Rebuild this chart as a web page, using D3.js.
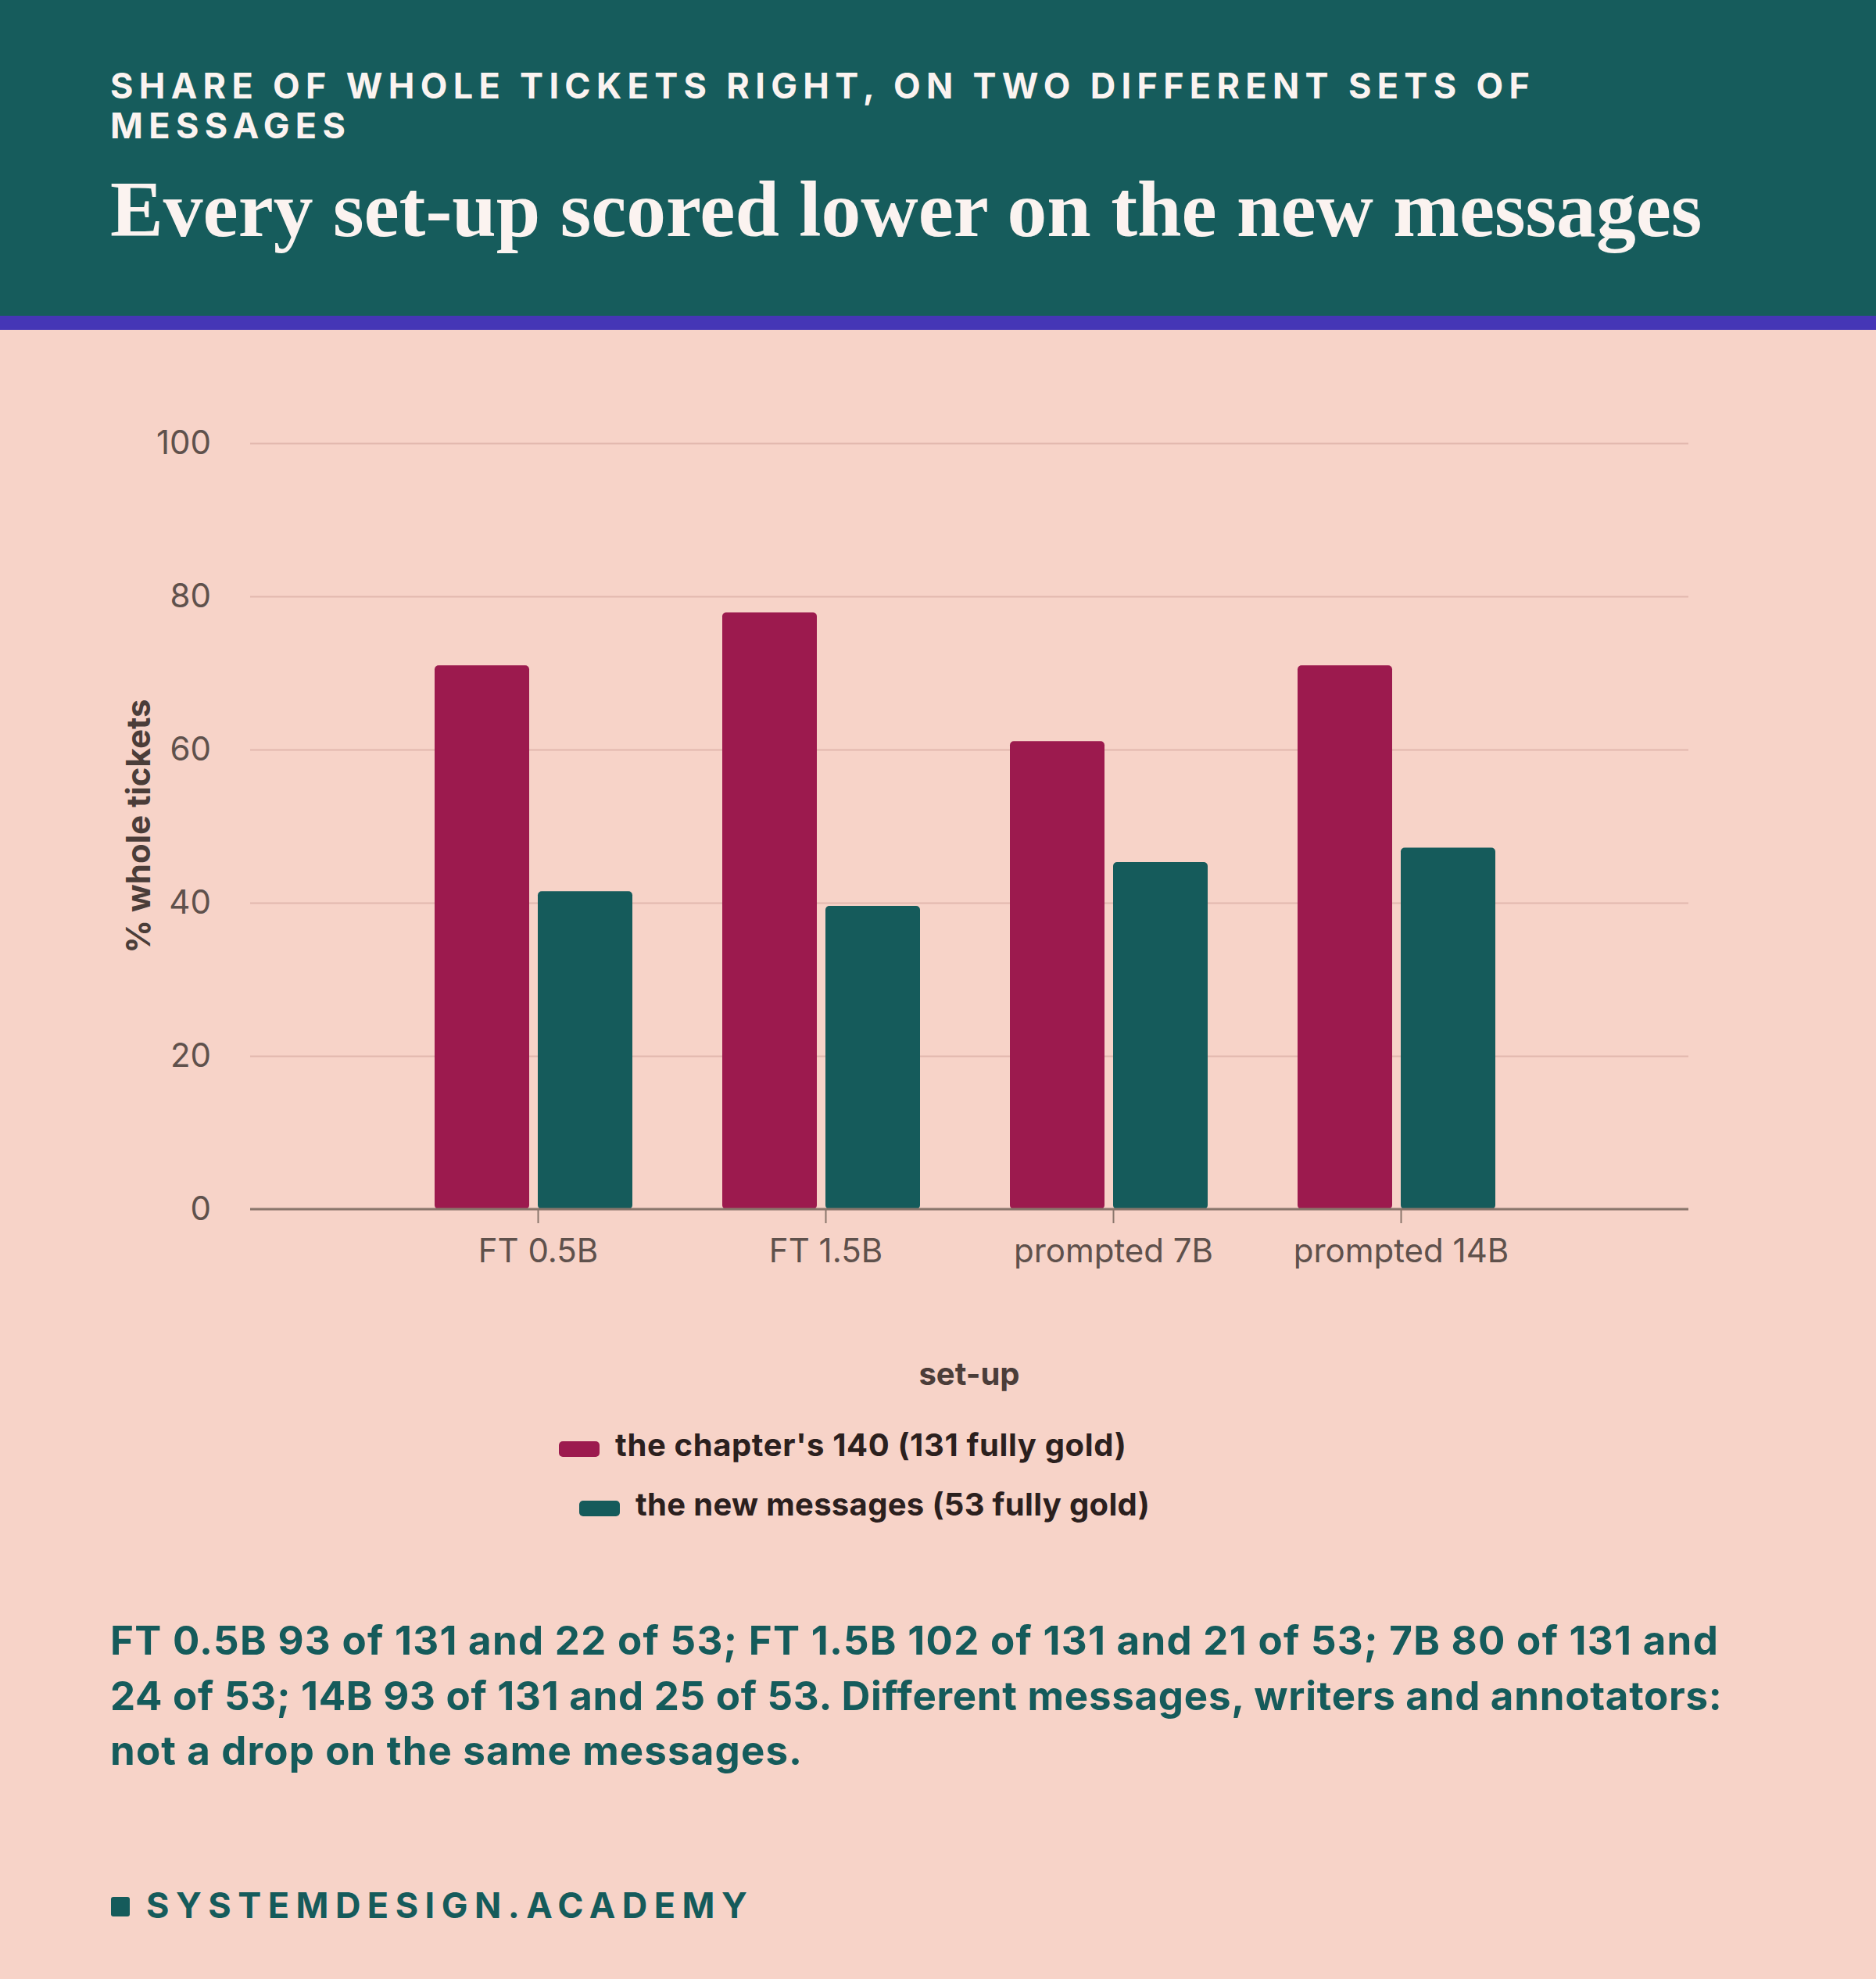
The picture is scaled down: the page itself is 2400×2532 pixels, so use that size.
<!DOCTYPE html>
<html>
<head>
<meta charset="utf-8">
<script src="https://cdn.jsdelivr.net/npm/d3@7"></script>
<style>
  html, body { margin: 0; padding: 0; background: #f7d3c8; }
  svg { display: block; }
  .sans { font-family: Inter, "Noto Sans", sans-serif; }
</style>
</head>
<body>
<div id="chart"></div>
<script>
// values (percent of whole tickets right)
var categories = ["FT 0.5B", "FT 1.5B", "prompted 7B", "prompted 14B"]
var seriesNames = ["the chapter's 140 (131 fully gold)", "the new messages (53 fully gold)"]
var chapterPct = [71.0, 77.9, 61.1, 71.0]
var newPct = [41.5, 39.6, 45.3, 47.2]
var yTicks = [0, 20, 40, 60, 80, 100]

var kicker = ["SHARE OF WHOLE TICKETS RIGHT, ON TWO DIFFERENT SETS OF", "MESSAGES"]
var title = "Every set-up scored lower on the new messages"
var note = [
  "FT 0.5B 93 of 131 and 22 of 53; FT 1.5B 102 of 131 and 21 of 53; 7B 80 of 131 and",
  "24 of 53; 14B 93 of 131 and 25 of 53. Different messages, writers and annotators:",
  "not a drop on the same messages."
]
var brand = "SYSTEMDESIGN.ACADEMY"

var W = 2400, H = 2532
var teal = "#155b5b", red = "#9c1a4e", bg = "#f7d3c8"
var plotL = 320, plotR = 2160, plotT = 567, plotB = 1547

var svg = d3.select("#chart").append("svg")
  .attr("width", W).attr("height", H)

svg.append("rect").attr("width", W).attr("height", H).attr("fill", bg)

// header
svg.append("rect").attr("width", W).attr("height", 404).attr("fill", "#165c5c")
svg.append("rect").attr("y", 404).attr("width", W).attr("height", 18).attr("fill", "#4536b6")

//stretch a line with letter spacing until it hits the width from the picture
function spreadTo(sel, target) {
  var n = sel.text().length
  var w0 = sel.node().getComputedTextLength()
  sel.attr("letter-spacing", ((target - w0) / (n - 1)).toFixed(2))
}

var k1 = svg.append("text").attr("class", "sans")
  .attr("x", 141).attr("y", 126)
  .attr("font-size", 45).attr("font-weight", 700).attr("fill", "#fbf3f0")
  .text(kicker[0])
spreadTo(k1, 1816)
svg.append("text").attr("class", "sans")
  .attr("x", 141).attr("y", 177)
  .attr("font-size", 45).attr("font-weight", 700).attr("fill", "#fbf3f0")
  .attr("letter-spacing", k1.attr("letter-spacing"))
  .text(kicker[1])

var t = svg.append("text")
  .attr("x", 141).attr("y", 302)
  .attr("font-family", "'Liberation Serif', 'DejaVu Serif', serif")
  .attr("font-size", 96).attr("font-weight", 700).attr("fill", "#fbf3f0")
  .text(title)
var tw = t.node().getComputedTextLength()
t.attr("font-size", (96 * 2037 / tw).toFixed(1))

// scales
var x0 = d3.scalePoint().domain(categories).range([plotL, plotR]).padding(1)
var x1 = d3.scaleBand().domain([0, 1]).range([-132, 121]).paddingInner(11 / 132)
var y = d3.scaleLinear().domain([0, 100]).range([plotB, plotT])
var colors = [red, teal]

// grid + y labels
var yAxis = svg.append("g")
  .attr("transform", "translate(" + plotL + ",0)")
  .call(d3.axisLeft(y).tickValues(yTicks).tickSize(-(plotR - plotL)).tickPadding(50))
yAxis.select(".domain").remove()
yAxis.selectAll(".tick line").attr("stroke", "#e2b8ae").attr("stroke-width", 2)
yAxis.selectAll(".tick text")
  .attr("font-family", "Inter, 'Noto Sans', sans-serif")
  .attr("font-size", 42).attr("fill", "#5f514c")

// bars
var rows = categories.map(function(c, i) {
  return { cat: c, vals: [chapterPct[i], newPct[i]] }
})
var groups = svg.selectAll("g.grp")
  .data(rows)
  .enter().append("g")
  .attr("class", "grp")
  .attr("transform", function(d) { return "translate(" + x0(d.cat) + ",0)" })

groups.selectAll("rect")
  .data(function(d) { return d.vals.map(function(v, j) { return { v: v, j: j } }) })
  .enter().append("rect")
  .attr("x", function(d) { return x1(d.j) })
  .attr("width", x1.bandwidth())
  .attr("y", function(d) { return y(d.v) })
  .attr("height", function(d) { return y(0) - y(d.v) })
  .attr("rx", 5)
  .attr("fill", function(d) { return colors[d.j] })

// x axis
var xAxis = svg.append("g")
  .attr("transform", "translate(0," + plotB + ")")
  .call(d3.axisBottom(x0).tickSize(18).tickPadding(20).tickSizeOuter(0))
xAxis.select(".domain").remove()
xAxis.selectAll(".tick line").attr("stroke", "#8a766c").attr("stroke-width", 2)
xAxis.selectAll(".tick text")
  .attr("font-family", "Inter, 'Noto Sans', sans-serif")
  .attr("font-size", 42).attr("fill", "#5f514c")
svg.append("line")
  .attr("x1", plotL).attr("x2", plotR)
  .attr("y1", y(0)).attr("y2", y(0))
  .attr("stroke", "#8a766c").attr("stroke-width", 3)

// axis titles
svg.append("text").attr("class", "sans")
  .attr("transform", "translate(192," + ((plotT + plotB) / 2) + ") rotate(-90)")
  .attr("text-anchor", "middle")
  .attr("font-size", 42).attr("font-weight", 700).attr("fill", "#4b3d39")
  .text("% whole tickets")
svg.append("text").attr("class", "sans")
  .attr("x", (plotL + plotR) / 2).attr("y", 1772)
  .attr("text-anchor", "middle")
  .attr("font-size", 40).attr("font-weight", 700).attr("fill", "#4b3d39")
  .text("set-up")

// legend
var legX = [715, 741], legY = [1854, 1930], legW = [654, 658]
seriesNames.forEach(function(name, i) {
  var g = svg.append("g").attr("transform", "translate(" + legX[i] + "," + legY[i] + ")")
  g.append("rect").attr("x", 0).attr("y", -10).attr("width", 52).attr("height", 20)
    .attr("rx", 5).attr("fill", colors[i])
  var lt = g.append("text").attr("class", "sans")
    .attr("x", 72).attr("y", 9)
    .attr("font-size", 40).attr("font-weight", 700).attr("fill", "#2b201e")
    .text(name)
  spreadTo(lt, legW[i])
})

// footnote, each line fitted to where it ends in the picture
var noteEnd = [2198, 2203, 1026]
svg.selectAll("text.note")
  .data(note)
  .enter().append("text")
  .attr("class", "note sans")
  .attr("x", 141)
  .attr("y", function(d, i) { return 2117 + i * 70.5 })
  .attr("font-size", 51).attr("font-weight", 700).attr("fill", teal)
  .text(function(d) { return d })
  .each(function(d, i) { spreadTo(d3.select(this), noteEnd[i] - 141) })

// brand
svg.append("rect").attr("x", 142).attr("y", 2427).attr("width", 24).attr("height", 25)
  .attr("rx", 3).attr("fill", teal)
var b = svg.append("text").attr("class", "sans")
  .attr("x", 187).attr("y", 2454)
  .attr("font-size", 45).attr("font-weight", 700).attr("fill", teal)
  .text(brand)
spreadTo(b, 769)
</script>
</body>
</html>
